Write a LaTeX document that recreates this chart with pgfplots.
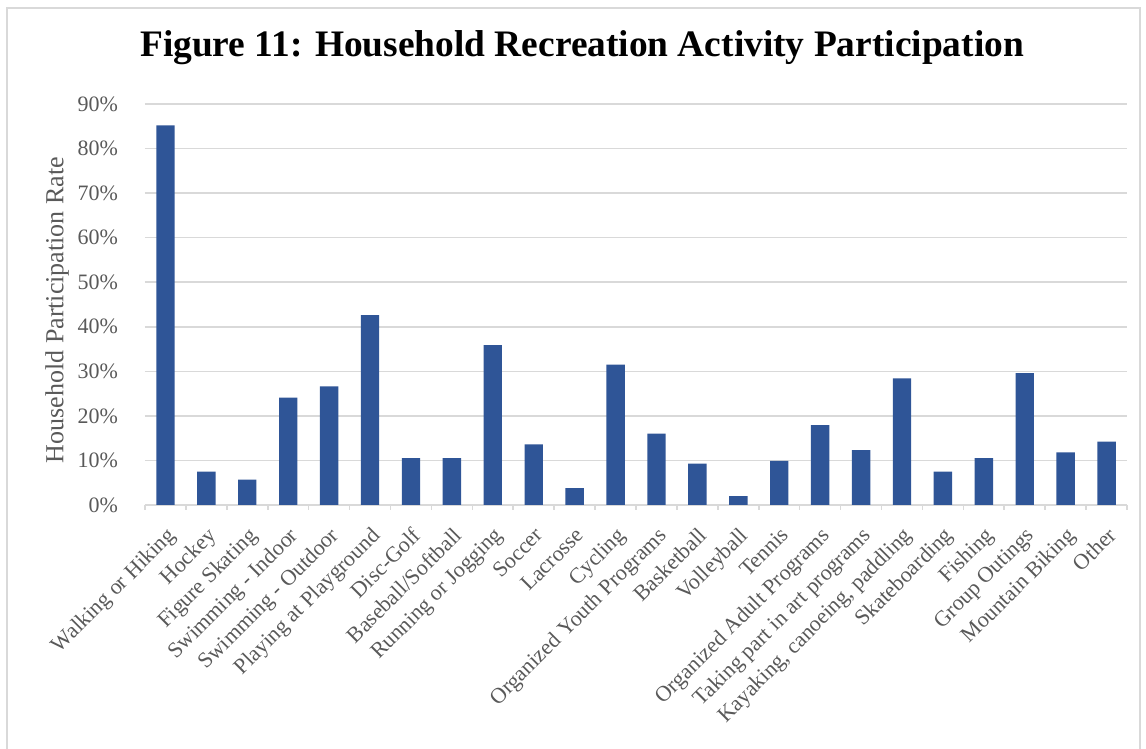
\documentclass[border=0pt]{standalone}
\usepackage{fontspec}
\setmainfont{Liberation Serif}
\usepackage{pgfplots}
\pgfplotsset{compat=1.18}
\definecolor{barblue}{HTML}{2F5597}
\definecolor{txtgray}{HTML}{595959}
\definecolor{gridgray}{HTML}{D9D9D9}
\begin{document}
\begin{tikzpicture}[x=0.5pt,y=0.5pt]
\useasboundingbox (0,0) rectangle (1146,749);
\draw[gridgray, line width=1pt] (7,-20) -- (7,741) -- (1140,741) -- (1140,-20);
\node[font=\bfseries\fontsize{18.7}{22}\selectfont] at (582,701)
  {Figure 11: Household Recreation Activity Participation};
\node[rotate=90, text=txtgray, font=\fontsize{13}{15}\selectfont] at (57,439)
  {Household Participation Rate};
\begin{axis}[
    at={(72.5pt,122pt)}, anchor=south west,
    scale only axis, width=491pt, height=200.5pt,
    ybar, bar width=0.45,
    xmin=0.5, xmax=24.5, ymin=0, ymax=90,
    ytick={0,10,...,90},
    yticklabel={\pgfmathprintnumber{\tick}\%},
    /pgf/number format/assume math mode=true,
    ymajorgrids, major grid style={gridgray, line width=0.8pt},
    axis x line*=bottom, axis y line*=left,
    y axis line style={draw=none},
    x axis line style={gridgray, line width=0.8pt},
    ytick style={draw=none},
    xtick={1,...,24},
    major x tick style={draw=none},
    minor xtick={0.5,1.5,...,24.5},
    minor x tick style={gridgray, line width=0.8pt},
    minor tick length=2.5pt,
    tick align=outside,
    xticklabels={Walking or Hiking, Hockey, Figure Skating, Swimming - Indoor,
      Swimming - Outdoor, Playing at Playground, Disc-Golf, Baseball/Softball,
      Running or Jogging, Soccer, Lacrosse, Cycling, Organized Youth Programs,
      Basketball, Volleyball, Tennis, Organized Adult Programs,
      Taking part in art programs, {Kayaking, canoeing, paddling}, Skateboarding,
      Fishing, Group Outings, Mountain Biking, Other},
    xticklabel style={rotate=45, anchor=north east, inner sep=0pt,
      text=txtgray, font=\fontsize{11}{13}\selectfont},
    xticklabel shift=6pt,
    yticklabel style={anchor=east, inner sep=0pt,
      text=txtgray, font=\fontsize{11}{13}\selectfont},
    yticklabel shift=9pt,
]
\addplot[fill=barblue, draw=none] coordinates {
  (1,85.2) (2,7.5) (3,5.7) (4,24.1) (5,26.6) (6,42.6) (7,10.5) (8,10.5)
  (9,35.9) (10,13.6) (11,3.8) (12,31.5) (13,16.0) (14,9.3) (15,2.0) (16,9.9)
  (17,17.9) (18,12.3) (19,28.4) (20,7.5) (21,10.5) (22,29.6) (23,11.8) (24,14.2)
};
\end{axis}
\end{tikzpicture}
\end{document}
